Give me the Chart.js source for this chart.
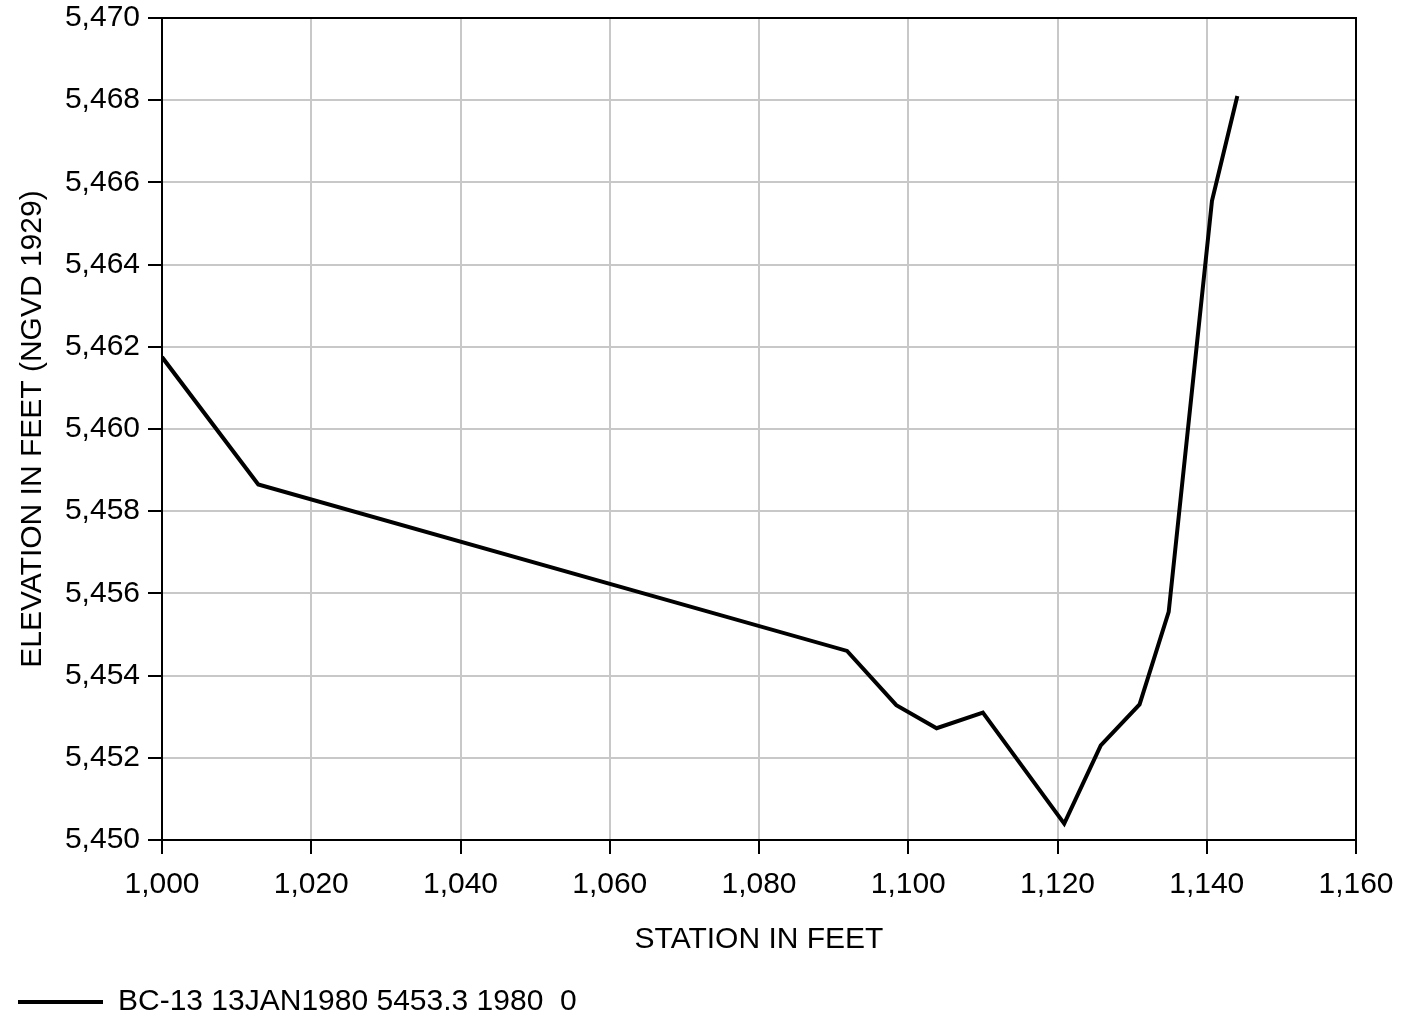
<!DOCTYPE html>
<html lang="en">
<head>
    <meta charset="UTF-8" />
    <title>Cross Section BC-13</title>
    <script src="https://cdn.jsdelivr.net/npm/chart.js"></script>
    <style>
        body { margin: 0; background: #fff; }
        #wrap { width: 1406px; height: 1018px; }
    </style>
</head>
<body>
    <div id="wrap"><canvas id="sectionChart"></canvas></div>

    <script>
        // values
        const stations = [1000, 1012.9, 1091.8, 1098.4, 1103.8, 1110.0, 1120.9, 1125.8, 1131.0, 1134.9, 1140.7, 1144.1];
        const elevations = [5461.75, 5458.65, 5454.6, 5453.28, 5452.72, 5453.1, 5450.4, 5452.3, 5453.3, 5455.55, 5465.55, 5468.1];
        const seriesName = "BC-13 13JAN1980 5453.3 1980  0";
        const xTitle = "STATION IN FEET";
        const yTitle = "ELEVATION IN FEET (NGVD 1929)";

        const fontFamily = "'Liberation Sans', Arial, sans-serif";
        Chart.defaults.font.family = fontFamily;
        Chart.defaults.font.size = 30;
        Chart.defaults.color = "#000";

        // black frame round the plot area
        const frame = {
            id: "frame",
            afterDraw(chart) {
                const { ctx, chartArea: a } = chart;
                ctx.save();
                ctx.strokeStyle = "#000";
                ctx.lineWidth = 2;
                ctx.strokeRect(a.left, a.top, a.right - a.left, a.bottom - a.top);
                ctx.restore();
            }
        };

        const ctx = document.getElementById("sectionChart").getContext("2d");
        new Chart(ctx, {
            type: "line",
            data: {
                datasets: [{
                    label: seriesName,
                    data: stations.map((s, i) => ({ x: s, y: elevations[i] })),
                    borderColor: "#000",
                    backgroundColor: "#000",
                    borderWidth: 4,
                    pointRadius: 0,
                    tension: 0
                }]
            },
            options: {
                responsive: true,
                maintainAspectRatio: false,
                animation: false,
                layout: { padding: { top: 18, right: 50, left: 18, bottom: -9 } },
                plugins: {
                    tooltip: { enabled: false },
                    legend: {
                        position: "bottom",
                        align: "start",
                        labels: {
                            padding: 0,
                            boxWidth: 85,
                            boxHeight: 0,
                            font: { size: 30 }
                        }
                    }
                },
                scales: {
                    x: {
                        type: "linear",
                        min: 1000,
                        max: 1160,
                        afterFit: s => { s.height = 147; s.paddingLeft = 0; s.paddingRight = 0; },
                        ticks: { stepSize: 20, padding: 13, maxRotation: 0 },
                        grid: { color: "#c8c8c8", lineWidth: 2, tickColor: "#000", tickLength: 14, tickWidth: 2 },
                        border: { color: "#000", width: 2 },
                        title: { display: true, text: xTitle, padding: { top: 0, bottom: 29 } }
                    },
                    y: {
                        min: 5450,
                        max: 5470,
                        afterFit: s => { s.width = 144; s.paddingTop = 0; s.paddingBottom = 0; },
                        ticks: { stepSize: 2, padding: 8 },
                        grid: { color: "#c8c8c8", lineWidth: 2, tickColor: "#000", tickLength: 14, tickWidth: 2 },
                        border: { color: "#000", width: 2 },
                        title: { display: true, text: yTitle, padding: { top: -3, bottom: 0 } }
                    }
                }
            },
            plugins: [frame]
        });
    </script>
</body>
</html>
